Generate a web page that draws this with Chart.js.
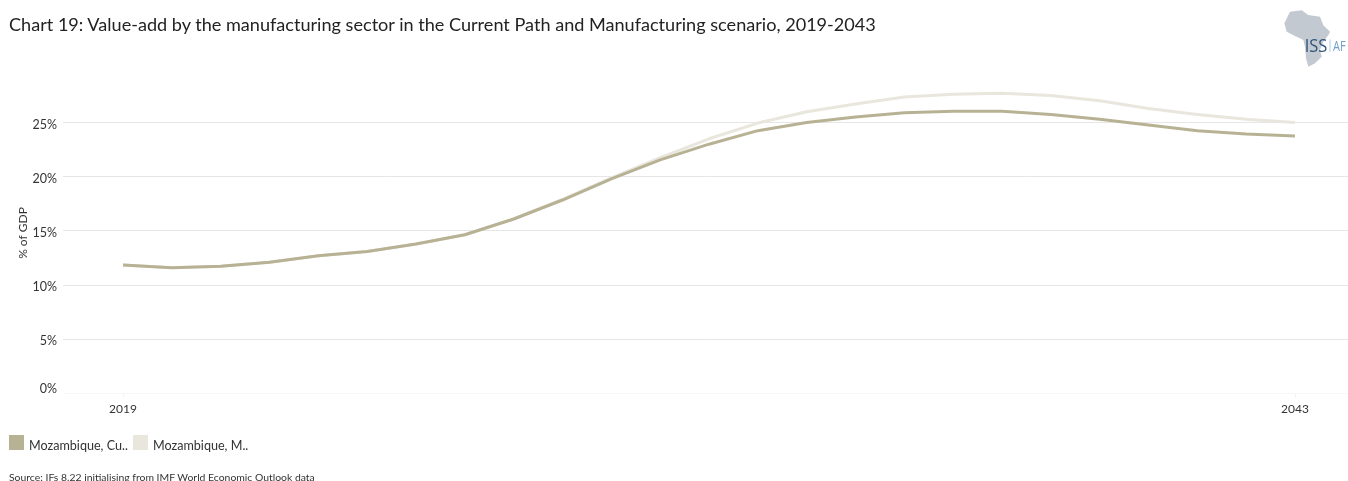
<!DOCTYPE html>
<html>
<head>
<meta charset="utf-8">
<title>Chart 19</title>
<script src="https://cdn.jsdelivr.net/npm/chart.js@4"></script>
<style>
  html, body { margin: 0; padding: 0; background: #fff; overflow: hidden; }
  body { width: 1348px; height: 481px; position: relative; font-family: Lato, sans-serif; color: #333; }
  #chart { position: absolute; left: 0; top: 0; }
  .txt { position: absolute; white-space: nowrap; }
  #title { left: 9px; top: 12px; font-size: 18.1px; line-height: 24px; color: #222; }
  #source { left: 9px; top: 471px; font-size: 10.4px; line-height: 13px; }
  .swatch { position: absolute; top: 435px; width: 15px; height: 15px; }
  .legend { top: 438px; font-size: 12.6px; line-height: 16px; }
  #logo { position: absolute; left: 1240px; top: 0; width: 108px; height: 80px; }
</style>
</head>
<body>
<canvas id="chart" width="1348" height="481"></canvas>

<div class="txt" id="title">Chart 19: Value-add by the manufacturing sector in the Current Path and Manufacturing scenario, 2019-2043</div>

<div class="swatch" style="left:9px;background:#b8b295"></div>
<div class="txt legend" style="left:29px">Mozambique, Cu..</div>
<div class="swatch" style="left:133px;background:#e8e6dd"></div>
<div class="txt legend" style="left:153px">Mozambique, M..</div>

<div class="txt" id="source">Source: IFs 8.22 initialising from IMF World Economic Outlook data</div>

<svg id="logo" viewBox="0 0 324 240">
  <path fill="#c3c9d0" d="M150 35 L185 31 L205 45 L240 50 L250 76 L270 95 L266 104 L250 125 L240 150 L245 170 L225 190 L205 200 L198 175 L195 140 L190 120 L165 108 L140 95 L133 70 Z"/>
  <text x="194" y="155" font-family="Open Sans" font-size="52" fill="#2f5379" textLength="68" lengthAdjust="spacingAndGlyphs">ISS</text>
  <rect x="269" y="118" width="2" height="38" fill="#8fb4d2"/>
  <text x="279" y="153" font-family="Open Sans" font-size="44" fill="#6d9fc9" textLength="38" lengthAdjust="spacingAndGlyphs">AF</text>
</svg>

<script>
const years = [2019, 2020, 2021, 2022, 2023, 2024, 2025, 2026, 2027, 2028, 2029, 2030,
  2031, 2032, 2033, 2034, 2035, 2036, 2037, 2038, 2039, 2040, 2041, 2042, 2043];

// % of GDP
const currentPath = [11.85, 11.6, 11.75, 12.1, 12.7, 13.1, 13.8, 14.65, 16.1, 17.85, 19.8, 21.55,
  23.0, 24.25, 25.0, 25.5, 25.9, 26.05, 26.03, 25.75, 25.3, 24.77, 24.25, 23.95, 23.75];
const manufacturing = [11.85, 11.6, 11.75, 12.1, 12.7, 13.1, 13.8, 14.65, 16.1, 17.9, 19.9, 21.75,
  23.5, 24.95, 26.0, 26.7, 27.35, 27.6, 27.7, 27.5, 27.0, 26.3, 25.75, 25.3, 25.0];

const xTicks = [2019, 2043];
const yTicks = [0, 5, 10, 15, 20, 25];

const toPoints = values => values.map((v, i) => ({ x: years[i], y: v }));

// y tick labels sit a little below their gridline, the 0% one is pulled up above the baseline
const yLabels = {
  id: 'yLabels',
  afterDraw(chart) {
    const { ctx, scales: { y } } = chart;
    ctx.save();
    ctx.font = '12.5px Lato';
    ctx.fillStyle = '#333';
    ctx.textAlign = 'right';
    ctx.textBaseline = 'middle';
    yTicks.forEach(v => {
      ctx.fillText(v + '%', 57, y.getPixelForValue(v) + (v === 0 ? -5 : 2));
    });
    ctx.translate(23, 233);
    ctx.rotate(-Math.PI / 2);
    ctx.textAlign = 'center';
    ctx.font = '12px Lato';
    ctx.fillText('% of GDP', 0, 0);
    ctx.restore();
  }
};

new Chart(document.getElementById('chart'), {
  type: 'line',
  data: {
    datasets: [
      {
        label: 'Mozambique, Current Path',
        data: toPoints(currentPath),
        borderColor: '#b8b295',
        order: 1
      },
      {
        label: 'Mozambique, Manufacturing',
        data: toPoints(manufacturing),
        borderColor: '#e8e6dd',
        order: 2
      }
    ]
  },
  options: {
    responsive: false,
    animation: false,
    layout: { padding: { top: 90 } },
    elements: {
      point: { radius: 0 },
      line: { borderWidth: 3, tension: 0, borderCapStyle: 'butt', borderJoinStyle: 'round' }
    },
    plugins: {
      legend: { display: false },
      title: { display: false },
      tooltip: { enabled: false }
    },
    scales: {
      x: {
        type: 'linear',
        min: 2017.771,
        max: 2044.085,
        afterBuildTicks: scale => { scale.ticks = xTicks.map(v => ({ value: v })); },
        afterFit: scale => { scale.height = 87.5; },
        border: { display: false },
        grid: { drawOnChartArea: false, drawTicks: true, tickLength: 4, tickColor: '#f2f2f2' },
        ticks: {
          autoSkip: false,
          maxRotation: 0,
          padding: 4,
          color: '#333',
          font: { family: 'Lato', size: 12 },
          callback: v => String(v)
        }
      },
      y: {
        min: 0,
        max: 28,
        afterBuildTicks: scale => { scale.ticks = yTicks.map(v => ({ value: v })); },
        afterFit: scale => { scale.width = 63; },
        border: { display: false },
        grid: {
          drawTicks: false,
          color: ctx => (ctx.tick.value === 0 ? '#f7f7f7' : '#e6e6e6')
        },
        ticks: { display: false }
      }
    }
  },
  plugins: [yLabels]
});
</script>
</body>
</html>
